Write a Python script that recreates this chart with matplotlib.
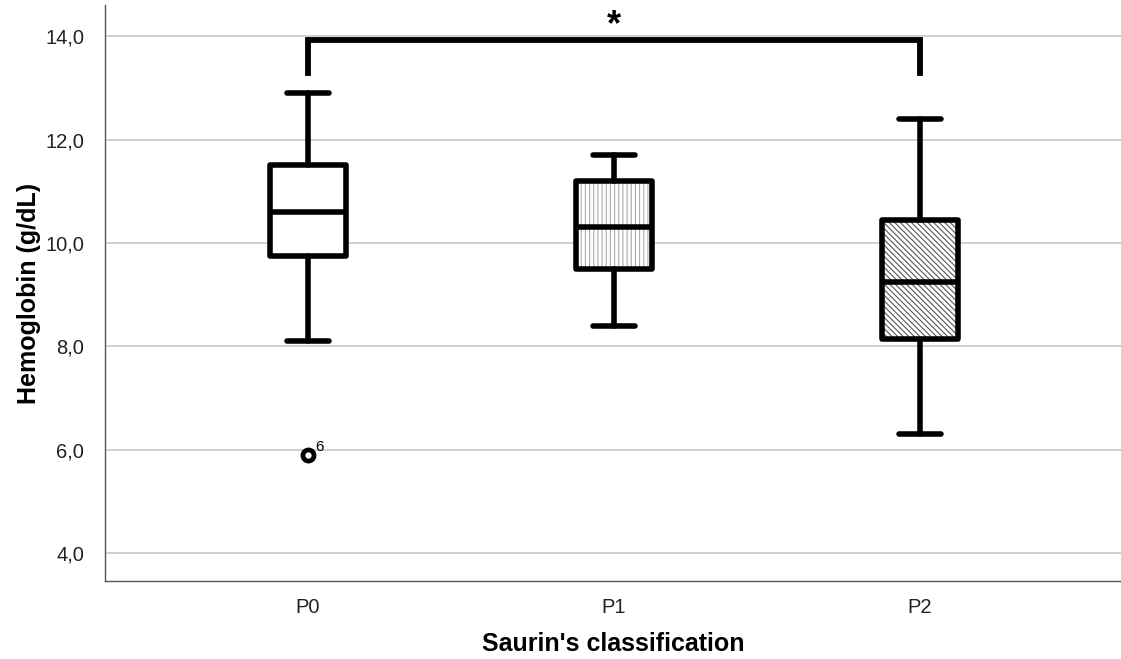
import matplotlib
matplotlib.use("Agg")
import matplotlib.pyplot as plt
from matplotlib.patches import PathPatch

plt.rcParams['font.family'] = ['Liberation Sans', 'DejaVu Sans']

categories = ["P0", "P1", "P2"]
whislo = [8.1, 8.4, 6.3]
q1 = [9.75, 9.5, 8.15]
med = [10.6, 10.3, 9.25]
q3 = [11.5, 11.2, 10.45]
whishi = [12.9, 11.7, 12.4]
fliers = [[5.9], [], []]
flier_labels = ["6"]
hatches = [None, "||||", "\\\\\\\\\\\\"]
hatch_colors = [None, "#ababab", "#555555"]
yticks = [4.0, 6.0, 8.0, 10.0, 12.0, 14.0]
bracket_y = 13.92
bracket_drop = 13.28

fig = plt.figure(figsize=(11.21, 6.59), dpi=100)
ax = fig.add_axes([0.0937, 0.1184, 0.9063, 0.8736])

stats = []
for i, c in enumerate(categories):
    stats.append(dict(label=c, whislo=whislo[i], q1=q1[i], med=med[i],
                      q3=q3[i], whishi=whishi[i], fliers=fliers[i]))

pos = list(range(len(categories)))
lw = 4.0
bp = ax.bxp(stats, positions=pos, widths=0.25, patch_artist=True,
            showfliers=False,
            boxprops=dict(facecolor='none', edgecolor='black', linewidth=lw, zorder=3),
            medianprops=dict(color='black', linewidth=lw, zorder=4),
            whiskerprops=dict(color='black', linewidth=lw, zorder=3),
            capprops=dict(color='black', linewidth=lw, zorder=3),
            capwidths=0.14)

plt.rcParams['hatch.linewidth'] = 0.8
for i, box in enumerate(bp['boxes']):
    box.set_joinstyle('round')
    face = PathPatch(box.get_path(), transform=box.get_transform(),
                     facecolor='white', edgecolor=hatch_colors[i] or 'white',
                     linewidth=0, hatch=hatches[i], zorder=2)
    ax.add_patch(face)

for w in bp['whiskers'] + bp['caps']:
    w.set_solid_capstyle('round')

# outliers
for i, fl in enumerate(fliers):
    for j, v in enumerate(fl):
        ax.plot(pos[i], v, 'o', ms=8, mfc='white', mec='black', mew=3.4, zorder=5)
        ax.annotate(flier_labels[j], (pos[i], v), xytext=(5, 3),
                    textcoords='offset points', fontsize=11)

# significance bracket
ax.plot([pos[0], pos[0], pos[2], pos[2]],
        [bracket_drop, bracket_y, bracket_y, bracket_drop],
        color='black', linewidth=4.2, solid_joinstyle='miter', zorder=5)
ax.text(pos[1], 14.2, "*", ha='center', va='center',
        fontsize=26, fontweight='bold')

ax.set_xlim(-0.663, 2.657)
ax.set_ylim(3.46, 14.6)
ax.set_yticks(yticks)
ax.set_yticklabels([f"{t:.1f}".replace('.', ',') for t in yticks])
ax.set_xticks(pos)
ax.set_xticklabels(categories)
ax.tick_params(axis='both', length=0, labelsize=14.5, colors='#222222')
ax.tick_params(axis='y', pad=15)
ax.tick_params(axis='x', pad=12)
ax.yaxis.grid(True, color='#c8c8c8', linewidth=1.2, zorder=0)
ax.set_axisbelow(True)
for s in ['top', 'right']:
    ax.spines[s].set_visible(False)
for s in ['left', 'bottom']:
    ax.spines[s].set_color('#555555')
    ax.spines[s].set_linewidth(1.0)

ax.set_ylabel("Hemoglobin (g/dL)", fontsize=18, fontweight='bold', labelpad=3)
ax.set_xlabel("Saurin's classification", fontsize=18, fontweight='bold', labelpad=11)

fig.savefig("out.png", dpi=100)
